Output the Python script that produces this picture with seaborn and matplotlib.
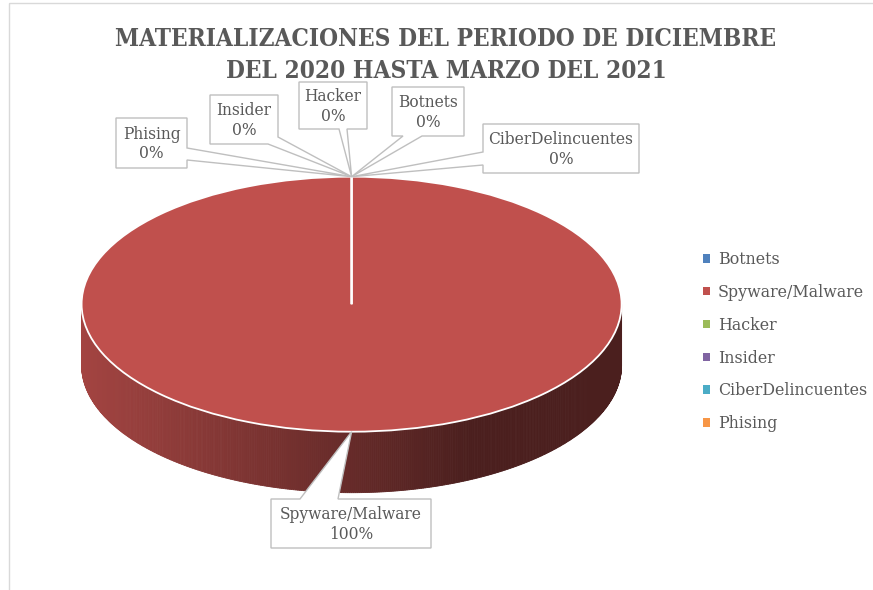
import numpy as np
import matplotlib
matplotlib.use("Agg")
import matplotlib.pyplot as plt
import seaborn as sns
from matplotlib.patches import Polygon, Rectangle, Patch
from matplotlib import font_manager as fm

# ---------------- data ----------------
categories = ["Botnets", "Spyware/Malware", "Hacker", "Insider", "CiberDelincuentes", "Phising"]
values = [0, 100, 0, 0, 0, 0]
title_lines = ["MATERIALIZACIONES DEL PERIODO DE DICIEMBRE", "DEL 2020 HASTA MARZO DEL 2021"]

# ---------------- style ----------------
colors = ["#4F81BD", "#C0504D", "#9BBB59", "#8064A2", "#4BACC6", "#F79646"]
TXT = "#595959"
BOXEDGE = "#BFBFBF"

sns.set_theme(style="white")
plt.rcParams['font.family'] = ['DejaVu Serif', 'DejaVu Sans']

W, H = 873, 590
fig = plt.figure(figsize=(W / 100, H / 100), dpi=100)
fig.patch.set_facecolor("white")

# pie geometry (pixels, image coords with y downward)
cx, cy = 351.6, 304.2
rx, ry = 270.0, 127.5
depth = 61.0 / ry

ax = fig.add_axes([0, 0, 1, 1])
wedges, _ = ax.pie(values, colors=colors, startangle=90, counterclock=False,
                   radius=1.0, wedgeprops=dict(edgecolor="white", linewidth=1.3))
ax.set_aspect("auto")
ax.set_xlim((0 - cx) / rx, (W - cx) / rx)
ax.set_ylim((cy - H) / ry, (cy - 0) / ry)
ax.axis("off")

# slice angle ranges (degrees, math convention) from data
vals = np.asarray(values, dtype=float)
frac = vals / vals.sum()
ends = 90 - 360 * np.cumsum(frac)
starts = np.concatenate([[90], ends[:-1]])
mids = (starts + ends) / 2


def slice_at(angle):
    a = angle
    for i in range(len(vals)):
        hi, lo = starts[i], ends[i]
        if hi == lo:
            continue
        aa = a
        while aa > hi:
            aa -= 360
        while aa < lo:
            aa += 360
        if lo <= aa <= hi:
            return i
    return int(np.argmax(vals))


# side wall with horizontal shading
N = 420
ts = np.linspace(180, 360, N + 1)
for k in range(N):
    t0, t1 = np.radians(ts[k]), np.radians(ts[k + 1])
    tm = (ts[k] + ts[k + 1]) / 2
    i = slice_at(tm)
    xm = np.cos(np.radians(tm))
    f = np.clip(0.85 - 0.32 * (xm + 1), 0.39, 0.85)
    base = np.array(matplotlib.colors.to_rgb(colors[i]))
    c = tuple(base * f)
    pts = [(np.cos(t0), np.sin(t0)), (np.cos(t1), np.sin(t1)),
           (np.cos(t1), np.sin(t1) - depth), (np.cos(t0), np.sin(t0) - depth)]
    ax.add_patch(Polygon(pts, closed=True, facecolor=c, edgecolor=c, linewidth=0.6, zorder=0.5))

# ---------------- overlay for callouts ----------------
axp = fig.add_axes([0, 0, 1, 1])
axp.set_xlim(0, W)
axp.set_ylim(H, 0)
axp.axis("off")
axp.patch.set_alpha(0)
axp.set_zorder(3)

# chart area border
axp.add_patch(Rectangle((8.5, 2.5), W + 10, H + 10, facecolor="none", edgecolor="#D9D9D9", linewidth=1))


def to_img(xd, yd):
    dx, dy = ax.transData.transform((xd, yd))
    return dx, H - dy


def perim_s(p, box):
    x0, y0, x1, y1 = box
    w, h = x1 - x0, y1 - y0
    x, y = p
    d = [abs(y - y0), abs(x - x1), abs(y - y1), abs(x - x0)]
    side = int(np.argmin(d))
    if side == 0:
        return x - x0
    if side == 1:
        return w + (y - y0)
    if side == 2:
        return w + h + (x1 - x)
    return 2 * w + h + (y1 - y)


def callout(box, p1, p2, tip, lines):
    x0, y0, x1, y1 = box
    w, h = x1 - x0, y1 - y0
    P = 2 * w + 2 * h
    corners = [(0, (x0, y0)), (w, (x1, y0)), (w + h, (x1, y1)), (2 * w + h, (x0, y1))]
    s1, s2 = perim_s(p1, box), perim_s(p2, box)
    if s1 > s2:
        p1, p2, s1, s2 = p2, p1, s2, s1
    verts = [p2]
    for s, c in sorted([(s if s > s2 else s + P, c) for s, c in corners]):
        if s < s1 + P:
            verts.append(c)
    verts += [p1, tip]
    axp.add_patch(Polygon(verts, closed=True, facecolor="white", edgecolor=BOXEDGE,
                          linewidth=1.0, joinstyle="miter"))
    axp.text((x0 + x1) / 2, (y0 + y1) / 2 + 1, "\n".join(lines), ha="center", va="center",
             fontsize=11.2, color=TXT, linespacing=1.2)


# label layout: box (x0,y0,x1,y1) and pointer base points
layout = {
    "Phising": ((116, 118, 187, 168), (187, 148), (187, 160)),
    "Insider": ((210, 95, 278, 144), (278, 137), (268, 144)),
    "Hacker": ((299, 82, 367, 129), (339, 129), (347, 129)),
    "Botnets": ((392, 87, 464, 136), (403, 136), (422, 136)),
    "CiberDelincuentes": ((483, 124, 639, 173), (483, 152), (483, 165)),
    "Spyware/Malware": ((271, 499, 431, 548), (300, 499), (338, 499)),
}

for i, cat in enumerate(categories):
    box, b1, b2 = layout[cat]
    a = np.radians(mids[i])
    tip = to_img(np.cos(a), np.sin(a))
    pct = f"{frac[i] * 100:.0f}%"
    callout(box, b1, b2, tip, [cat, pct])

# ---------------- legend ----------------
handles = [Patch(facecolor=w.get_facecolor(), edgecolor="none") for w in wedges]
leg = fig.legend(handles, categories, loc="upper left",
                 bbox_to_anchor=(703 / W, 1 - 251 / H), frameon=False,
                 handlelength=0.45, handleheight=0.45, handletextpad=0.5,
                 labelspacing=1.0, fontsize=11.4, borderpad=0, borderaxespad=0)
for t in leg.get_texts():
    t.set_color(TXT)

# ---------------- title ----------------
def pick_title_font():
    prefs = ["dejavuserifcondensed-bold", "liberationsansnarrow-bold", "robotocondensed-bold",
             "dejavusanscondensed-bold"]
    files = {f.fname.lower().split("/")[-1].rsplit(".", 1)[0]: f.fname for f in fm.fontManager.ttflist}
    for p in prefs:
        if p in files:
            return fm.FontProperties(fname=files[p])
    return fm.FontProperties(family="DejaVu Serif", weight="bold")


tfp = pick_title_font()
renderer = fig.canvas.get_renderer()
size = 22
t1 = fig.text(446 / W, 1 - 39 / H, title_lines[0], ha="center", va="center",
              fontproperties=tfp, fontsize=size, color=TXT)
bb = t1.get_window_extent(renderer)
size = min(24, size * 660 / bb.width)
t1.set_fontsize(size)
fig.text(446 / W, 1 - 71 / H, title_lines[1], ha="center", va="center",
         fontproperties=tfp, fontsize=size, color=TXT)

fig.savefig("out.png", dpi=100, facecolor="white")
